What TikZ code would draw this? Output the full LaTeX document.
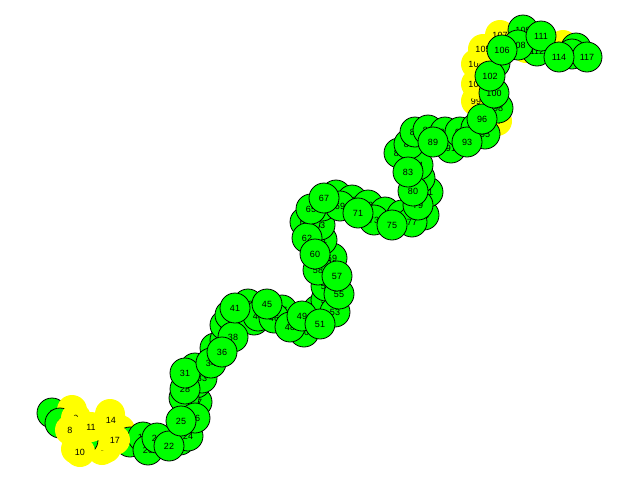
\documentclass[tikz,border=0pt]{standalone}
\usepackage{fontspec}
\setmainfont{Liberation Sans}
\definecolor{gr}{RGB}{0,255,0}
\definecolor{ye}{RGB}{255,255,0}
\tikzset{
  ballg/.style={circle,minimum size=30pt,inner sep=0pt,fill=gr,draw=black,line width=0.8pt,font=\fontsize{9}{10}\selectfont},
  bally/.style={circle,minimum size=30pt,inner sep=0pt,fill=ye,font=\fontsize{9}{10}\selectfont}
}
\begin{document}
\begin{tikzpicture}[x=1pt,y=-1pt]
\useasboundingbox (0,0) rectangle (640,480);
\foreach \layer in {1,2,3}{
\foreach \i/\x/\y/\c/\l in {
1/52/413/g/1,2/72/410/y/1,3/60/423/g/2,4/76/449/y/1,5/83/440/g/2,6/110/414/y/1,7/102/450/y/1,8/70/430/y/3,9/76/418/y/2,10/80/452/y/2,
11/91/427/y/3,12/98/440/y/1,13/106/448/y/1,14/111/420/y/2,15/120/430/y/1,16/106/436/y/1,17/115/440/y/3,18/130/442/g/1,19/143/437/g/2,20/148/450/g/2,
21/157/438/g/2,22/169/446/g/3,23/180/440/g/1,24/188/436/g/2,25/181/421/g/3,26/195/418/g/2,27/197/402/g/1,28/185/389/g/2,29/196/383/g/1,30/184/398/g/1,
31/185/373/g/2,32/195/368/g/1,33/202/378/g/1,34/211/363/g/2,35/215/348/g/1,36/222/352/g/3,37/225/340/g/1,38/233/337/g/2,39/225/325/g/1,40/230/315/g/1,
41/235/308/g/3,42/248/304/g/1,43/254/320/g/1,44/258/316/g/2,45/267/304/g/3,46/274/318/g/2,47/282/310/g/1,48/290/327/g/2,49/302/316/g/3,50/304/332/g/1,
51/320/324/g/3,52/318/310/g/1,53/335/312/g/2,54/326/300/g/1,55/339/294/g/2,56/326/286/g/1,57/337/276/g/3,58/318/270/g/2,59/332/258/g/1,60/315/254/g/3,
61/322/240/g/1,62/307/238/g/2,63/320/225/g/1,64/305/222/g/1,65/311/209/g/3,66/322/206/g/1,67/324/198/g/3,68/336/195/g/1,69/340/206/g/2,70/352/200/g/1,
71/358/213/g/3,72/368/205/g/1,73/374/220/g/2,74/385/212/g/1,75/392/225/g/3,76/402/215/g/1,77/412/222/g/2,78/424/215/g/1,79/418/205/g/2,80/413/191/g/3,
81/428/192/g/1,82/420/178/g/1,83/408/172/g/3,84/418/165/g/1,85/399/153/g/1,86/409/144/g/1,87/415/132/g/1,88/428/130/g/1,89/433/142/g/3,90/445/132/g/1,
91/451/148/g/1,92/460/132/g/1,93/467/142/g/3,94/476/128/g/1,95/485/134/g/2,96/482/119/g/3,97/497/121/y/1,98/498/108/g/1,99/476/101/y/1,100/494/93/g/3,
101/476/84/y/1,102/490/76/g/3,103/476/64/y/1,104/495/63/g/1,105/483/49/y/1,106/502/50/g/3,107/500/35/y/1,108/518/45/g/2,109/523/30/g/1,110/526/48/y/1,
111/541/36/g/3,112/537/51/g/1,113/563/45/y/1,114/559/57/g/3,115/572/54/g/2,116/576/48/g/1,117/587/57/g/2}
{
  \ifnum\l=\layer
    \node[ball\c] (n\i) at (\x,\y) {\i};
  \fi
}
}
\end{tikzpicture}
\end{document}
